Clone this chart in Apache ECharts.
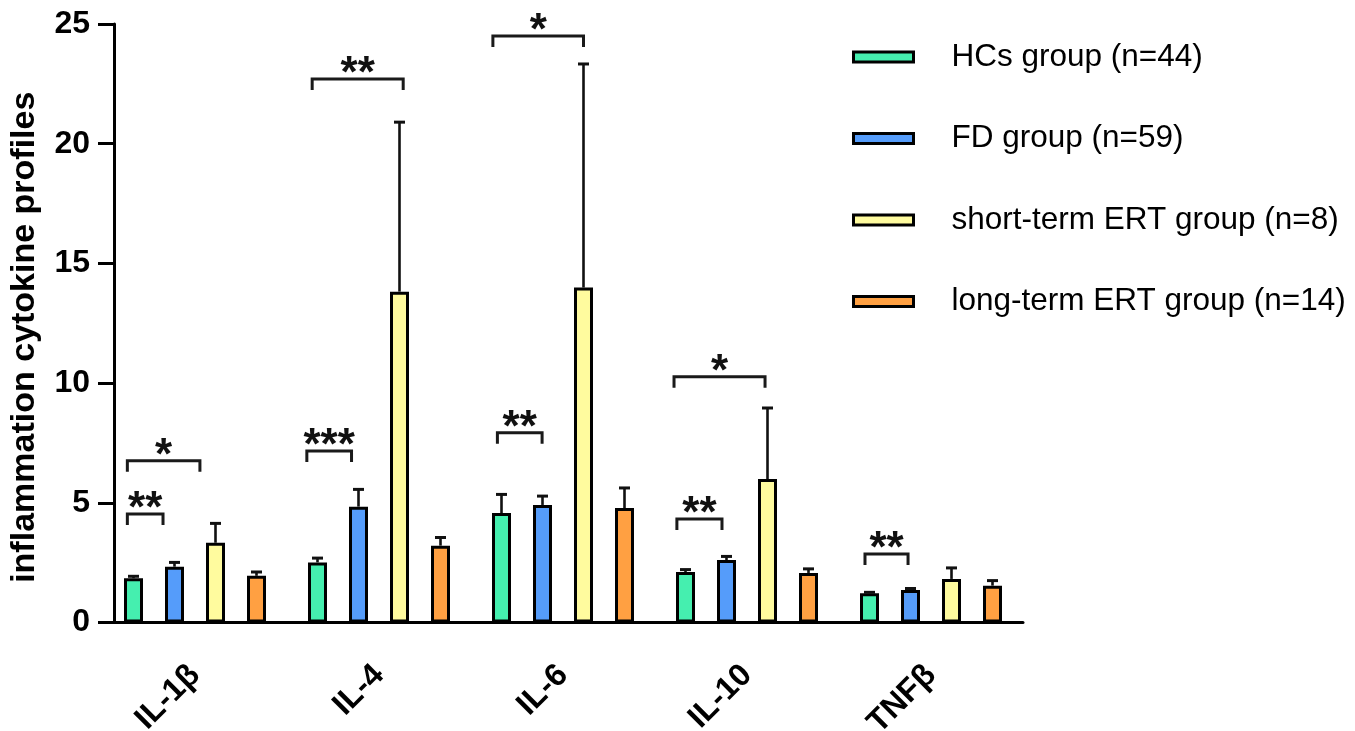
<!DOCTYPE html>
<html>
<head>
<meta charset="utf-8">
<script src="https://cdn.jsdelivr.net/npm/echarts@6/dist/echarts.min.js"></script>
<style>
html,body{margin:0;padding:0;background:#fff}
#chart{width:1355px;height:731px}
</style>
</head>
<body>
<div id="chart"></div>
<script>
var cytokines = ['IL-1β', 'IL-4', 'IL-6', 'IL-10', 'TNFβ'];
var groups = ['HCs group (n=44)', 'FD group (n=59)', 'short-term ERT group (n=8)', 'long-term ERT group (n=14)'];
var colors = ['#45EFAF', '#559CFA', '#FFFB9E', '#FFA042'];

var hcsMean   = [1.85, 2.51, 4.57, 2.11, 1.22];
var hcsErr    = [0.08, 0.18, 0.78, 0.10, 0.04];
var fdMean    = [2.33, 4.84, 4.91, 2.61, 1.36];
var fdErr     = [0.18, 0.72, 0.37, 0.15, 0.06];
var shortMean = [3.33, 13.82, 13.99, 5.99, 1.82];
var shortErr  = [0.81, 7.08, 9.34, 2.97, 0.46];
var longMean  = [1.95, 3.21, 4.78, 2.07, 1.54];
var longErr   = [0.16, 0.34, 0.84, 0.17, 0.21];

var yTicks = [0, 5, 10, 15, 20, 25];

// significance brackets: [cytokine, from bar, to bar, height, stars]
var brackets = [
    [0, -0.15, 0.72, 4.53, '**'],
    [0, -0.15, 1.62, 6.76, '*'],
    [1, -0.26, 0.83, 7.16, '***'],
    [1, -0.13, 2.09, 22.7, '**'],
    [2, -0.10, 0.99, 7.93, '**'],
    [2, -0.21, 2.00, 24.5, '*'],
    [3, -0.21, 0.89, 4.32, '**'],
    [3, -0.28, 1.94, 10.27, '*'],
    [4, -0.11, 0.94, 2.86, '**']
];

var means = [hcsMean, fdMean, shortMean, longMean];
var errs = [hcsErr, fdErr, shortErr, longErr];

var FONT = 'Liberation Sans, Arial, sans-serif';
var BAR_W = 19;
var BAR_GAP = 22;
var BAR_STEP = BAR_W + BAR_GAP;

function slotX(api, cat, pos) {
    return api.coord([cat, 0])[0] + (pos - 1.5) * BAR_STEP;
}

var errData = [];
for (var g = 0; g < groups.length; g++) {
    for (var i = 0; i < cytokines.length; i++) {
        errData.push([i, g, means[g][i], errs[g][i]]);
    }
}

var series = groups.map(function (name, g) {
    return {
        name: name,
        type: 'bar',
        barWidth: BAR_W,
        barGap: (BAR_GAP / BAR_W * 100) + '%',
        data: means[g],
        itemStyle: {color: colors[g], borderColor: '#000', borderWidth: 3},
        emphasis: {disabled: true}
    };
});

series.push({
    type: 'custom',
    data: errData,
    encode: {x: 0, y: 2},
    z: 3,
    renderItem: function (params, api) {
        var cat = api.value(0), g = api.value(1), m = api.value(2), e = api.value(3);
        var x = slotX(api, cat, g);
        var y0 = api.coord([cat, m])[1];
        var y1 = api.coord([cat, m + e])[1];
        return {
            type: 'group',
            children: [
                {type: 'line', shape: {x1: x, y1: y0, x2: x, y2: y1}, style: {stroke: '#111', lineWidth: 2.6}},
                {type: 'line', shape: {x1: x - 5.5, y1: y1, x2: x + 5.5, y2: y1}, style: {stroke: '#111', lineWidth: 3}}
            ]
        };
    }
});

series.push({
    type: 'custom',
    data: brackets.map(function (b) { return [b[0], b[1], b[2], b[3]]; }),
    encode: {x: 0, y: 3},
    z: 3,
    renderItem: function (params, api) {
        var cat = api.value(0);
        var x1 = slotX(api, cat, api.value(1));
        var x2 = slotX(api, cat, api.value(2));
        var y = api.coord([cat, api.value(3)])[1];
        return {
            type: 'group',
            children: [
                {type: 'polyline', shape: {points: [[x1, y + 11], [x1, y], [x2, y], [x2, y + 11]]},
                    style: {stroke: '#1a1a1a', lineWidth: 3, fill: null}},
                {type: 'text', x: (x1 + x2) / 2, y: y - 4,
                    style: {text: brackets[params.dataIndex][4], fontSize: 44, fontWeight: 'bold',
                        fontFamily: FONT, fill: '#111', align: 'center', verticalAlign: 'middle'}}
            ]
        };
    }
});

var myChart = echarts.init(document.getElementById('chart'));
option = {
    backgroundColor: '#fff',
    animation: false,
    grid: {
        left: 103,
        top: 24,
        width: 920,
        height: 598.5,
        containLabel: false,
        outerBoundsMode: 'none'
    },
    legend: {
        data: groups,
        orient: 'vertical',
        left: 847,
        top: 35,
        itemWidth: 60,
        itemHeight: 10,
        itemGap: 47.5,
        selectedMode: false,
        icon: 'rect',
        itemStyle: {borderColor: '#000', borderWidth: 3},
        textStyle: {
            fontSize: 31.5,
            fontFamily: FONT,
            color: '#000',
            lineHeight: 34,
            padding: [0, 0, 0, 33]
        }
    },
    xAxis: {
        type: 'category',
        data: cytokines,
        axisLine: {lineStyle: {color: '#000', width: 3}},
        axisTick: {alignWithLabel: true, length: 16, lineStyle: {color: '#000', width: 3}},
        axisLabel: {
            rotate: 45,
            align: 'right',
            verticalAlign: 'top',
            margin: 25,
            padding: [0, 16, 0, 0],
            fontSize: 32,
            fontWeight: 'bold',
            fontFamily: FONT,
            color: '#000'
        }
    },
    yAxis: {
        type: 'value',
        min: yTicks[0],
        max: yTicks[yTicks.length - 1],
        interval: 5,
        offset: -11,
        name: 'inflammation cytokine profiles',
        nameLocation: 'middle',
        nameRotate: 90,
        nameGap: 72,
        nameTextStyle: {
            fontSize: 34,
            fontWeight: 'bold',
            fontFamily: FONT,
            color: '#000',
            padding: [0, 28, 0, 0]
        },
        splitLine: {show: false},
        axisLine: {show: true, lineStyle: {color: '#000', width: 3}},
        axisTick: {show: true, length: 16, lineStyle: {color: '#000', width: 3}},
        axisLabel: {
            margin: 24,
            fontSize: 32,
            fontWeight: 'bold',
            fontFamily: FONT,
            color: '#000'
        }
    },
    series: series
};
myChart.setOption(option);
</script>
</body>
</html>
